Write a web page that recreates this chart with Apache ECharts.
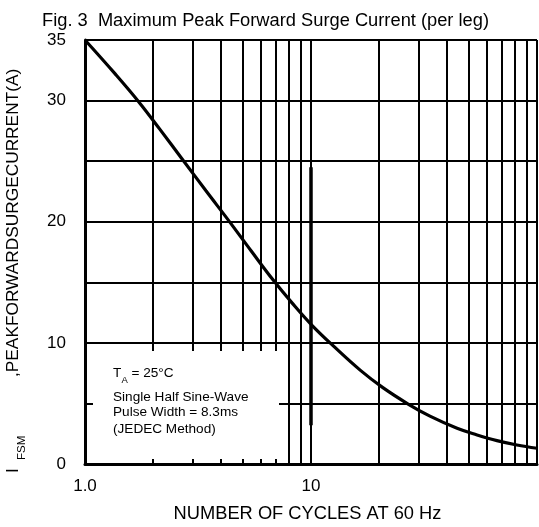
<!DOCTYPE html>
<html><head><meta charset="utf-8">
<script src="https://cdn.jsdelivr.net/npm/echarts@6/dist/echarts.min.js"></script>
<style>html,body{margin:0;padding:0;background:#fff}#c{width:539px;height:527px}</style>
</head><body><div id="c"></div>
<script>
// Data
const cycles = [1, 1.36, 1.72, 2.15, 2.71, 3.43, 4.34, 5.43, 6.79, 8.24, 10.1, 12.8, 16.5, 20.8, 26.9, 33.6, 44.3, 54.3, 66.5, 81.5, 100];
const surgeCurrent = [35, 32.2, 29.95, 27.6, 25.1, 22.55, 20.05, 17.6, 15.2, 13.3, 11.45, 9.6, 7.75, 6.3, 4.95, 3.95, 2.95, 2.4, 1.93, 1.57, 1.3];
const yTickLabels = [0, 10, 20, 30, 35];
const xTickLabels = {1: '1.0', 10: '10'};
const minorGridX = [2, 3, 4, 5, 6, 7, 8, 9, 20, 30, 40, 50, 60, 70, 80, 90];
const thickTen = [[10, 24.5], [10, 3.2]];

const FONT = '"Liberation Sans", Arial, sans-serif';
const chart = echarts.init(document.getElementById('c'), null, {renderer: 'canvas'});

const markData = minorGridX.map(v => ({xAxis: v}));
markData.push([{coord: thickTen[0], lineStyle: {width: 3.5}}, {coord: thickTen[1]}]);

chart.setOption({
  animation: false,
  backgroundColor: '#fff',
  title: {
    text: 'Fig. 3  Maximum Peak Forward Surge Current (per leg)',
    left: 42, top: 12, padding: 0,
    textStyle: {fontFamily: FONT, fontSize: 18.3, fontWeight: 'normal', color: '#000'}
  },
  grid: {left: 85, right: 2, top: 40, bottom: 63, containLabel: false, outerBoundsMode: 'none'},
  xAxis: {
    type: 'log', logBase: 10, min: 1, max: 100,
    name: 'NUMBER OF CYCLES AT 60 Hz', nameLocation: 'middle', nameGap: 41,
    nameTextStyle: {fontFamily: FONT, fontSize: 18.3, color: '#000', padding: [0, 7, 0, 0]},
    axisLine: {show: true, lineStyle: {color: '#000', width: 3}},
    axisTick: {show: false},
    minorTick: {show: false},
    axisLabel: {
      margin: 14, color: '#000', fontFamily: FONT, fontSize: 17,
      formatter: v => xTickLabels[Math.round(v)] !== undefined && Math.abs(v - Math.round(v)) < 1e-6 ? xTickLabels[Math.round(v)] : ''
    },
    splitLine: {show: true, lineStyle: {color: '#000', width: 2}}
  },
  yAxis: {
    type: 'value', min: 0, max: 35, interval: 5,
    axisLine: {show: true, lineStyle: {color: '#000', width: 3}},
    axisTick: {show: false},
    axisLabel: {
      margin: 19, color: '#000', fontFamily: FONT, fontSize: 17,
      formatter: v => yTickLabels.indexOf(v) >= 0 ? String(v) : ''
    },
    splitLine: {show: true, lineStyle: {color: '#000', width: 2}}
  },
  series: [
    {
      type: 'line', data: [], z: 1, silent: true,
      markLine: {
        silent: true, symbol: ['none', 'none'], animation: false,
        label: {show: false},
        emphasis: {disabled: true},
        lineStyle: {color: '#000', width: 2, type: 'solid'},
        data: markData
      }
    },
    {
      type: 'line', z: 5, silent: true,
      data: cycles.map((c, i) => [c, surgeCurrent[i]]),
      showSymbol: false, symbol: 'none',
      smooth: 0.4,
      lineStyle: {color: '#000', width: 3.2}
    }
  ],
  graphic: [
    {type: 'rect', z: 100, shape: {x: 93, y: 351, width: 186, height: 108}, style: {fill: '#fff'}},
    {type: 'text', z: 101, x: 113, y: 373.5, style: {text: 'T', font: '13.6px ' + FONT, fill: '#000', textVerticalAlign: 'middle'}},
    {type: 'text', z: 101, x: 121.5, y: 380, style: {text: 'A', font: '9.5px ' + FONT, fill: '#000', textVerticalAlign: 'middle'}},
    {type: 'text', z: 101, x: 131.5, y: 373.5, style: {text: '= 25°C', font: '13.6px ' + FONT, fill: '#000', textVerticalAlign: 'middle'}},
    {type: 'text', z: 101, x: 113, y: 397, style: {text: 'Single Half Sine-Wave', font: '13.6px ' + FONT, fill: '#000', textVerticalAlign: 'middle'}},
    {type: 'text', z: 101, x: 113, y: 412.5, style: {text: 'Pulse Width = 8.3ms', font: '13.6px ' + FONT, fill: '#000', textVerticalAlign: 'middle'}},
    {type: 'text', z: 101, x: 113, y: 429.5, style: {text: '(JEDEC Method)', font: '13.6px ' + FONT, fill: '#000', textVerticalAlign: 'middle'}},
    // rotated y-axis title
    {type: 'text', z: 101, x: 13.5, y: 377, rotation: Math.PI / 2, style: {text: ',PEAKFORWARDSURGECURRENT(A)', font: '17.3px ' + FONT, fill: '#000', textAlign: 'left', textVerticalAlign: 'middle'}},
    {type: 'text', z: 101, x: 21.5, y: 460, rotation: Math.PI / 2, style: {text: 'FSM', font: '11.5px ' + FONT, fill: '#000', textAlign: 'left', textVerticalAlign: 'middle'}},
    {type: 'text', z: 101, x: 13.5, y: 473, rotation: Math.PI / 2, style: {text: 'I', font: '17.3px ' + FONT, fill: '#000', textAlign: 'left', textVerticalAlign: 'middle'}}
  ]
});
</script>
</body></html>
